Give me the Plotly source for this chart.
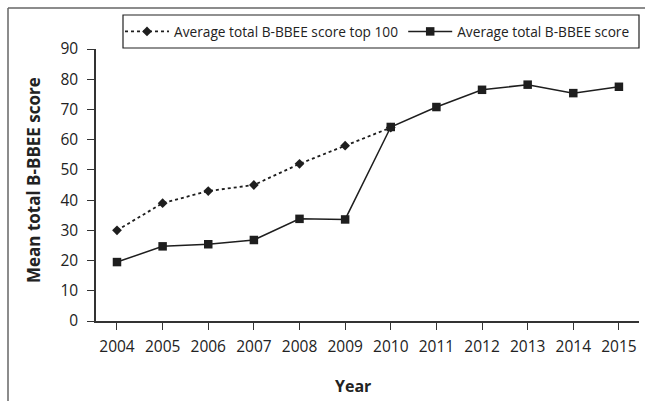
import plotly.graph_objects as go

years = ["2004", "2005", "2006", "2007", "2008", "2009", "2010", "2011", "2012", "2013", "2014", "2015"]
top100_years = ["2004", "2005", "2006", "2007", "2008", "2009", "2010"]
top100_scores = [30, 39, 43, 45, 52, 58, 64]
avg_scores = [19.5, 24.7, 25.4, 26.8, 33.8, 33.6, 64.2, 70.8, 76.5, 78.2, 75.4, 77.5]
y_ticks = [0, 10, 20, 30, 40, 50, 60, 70, 80, 90]

W, H = 645, 401
L, R, T, B = 96, 6, 49, 80
pw, ph = W - L - R, H - T - B

def px_x(x):
    return (x - L) / pw

def px_y(y):
    return (H - B - y) / ph

FONT = "Open Sans"
INK = "#1e1e1e"

fig = go.Figure()
fig.add_trace(go.Scatter(
    x=top100_years, y=top100_scores, mode="lines+markers",
    name="Average total B-BBEE score top 100",
    line=dict(color=INK, width=1.8, dash="dot"),
    marker=dict(symbol="diamond", size=7.5, color=INK),
))
fig.add_trace(go.Scatter(
    x=years, y=avg_scores, mode="lines+markers",
    name="Average total B-BBEE score",
    line=dict(color=INK, width=1.5),
    marker=dict(symbol="square", size=8.5, color=INK),
))

fig.update_layout(
    width=W, height=H,
    margin=dict(l=L, r=R, t=T, b=B, pad=0),
    paper_bgcolor="white", plot_bgcolor="white",
    font=dict(family=FONT, color="#222", size=15),
    showlegend=True,
    legend=dict(
        orientation="h", x=px_x(120), y=px_y(31.5), xanchor="left", yanchor="middle",
        borderwidth=0, bgcolor="rgba(0,0,0,0)",
        font=dict(family=FONT, size=13.7, color="#222"),
        traceorder="normal", itemwidth=44,
    ),
    xaxis=dict(
        type="category", categoryorder="array", categoryarray=years,
        range=[-0.46, 11.44], showgrid=False, zeroline=False,
        showline=True, linecolor="#333", linewidth=1.5,
        ticks="outside", ticklen=7, tickwidth=1.2, tickcolor="#333",
        tickfont=dict(size=15.5, family=FONT, color="#222"),
        ticklabelstandoff=4,
    ),
    yaxis=dict(
        range=[0, 90], tickvals=y_ticks, showgrid=False, zeroline=False,
        showline=True, linecolor="#333", linewidth=1.5,
        ticks="outside", ticklen=7, tickwidth=1.2, tickcolor="#333",
        tickfont=dict(size=15.5, family=FONT, color="#222"),
        ticklabelstandoff=6,
    ),
    annotations=[
        dict(text="<b>Year</b>", xref="paper", yref="paper",
             x=px_x(353), y=px_y(386), xanchor="center", yanchor="middle",
             showarrow=False, font=dict(size=16, family=FONT, color="#222")),
        dict(text="<b>Mean total B-BBEE score</b>", xref="paper", yref="paper",
             x=px_x(33), y=px_y(180), xanchor="center", yanchor="middle",
             textangle=-90, showarrow=False,
             font=dict(size=17, family=FONT, color="#222")),
    ],
    shapes=[
        dict(type="line", xref="paper", yref="paper",
             x0=px_x(8), x1=px_x(8), y0=px_y(401), y1=px_y(8),
             line=dict(color="#666", width=1.5)),
        dict(type="line", xref="paper", yref="paper",
             x0=px_x(8), x1=px_x(645), y0=px_y(8), y1=px_y(8),
             line=dict(color="#666", width=1.5)),
        dict(type="rect", xref="paper", yref="paper",
             x0=px_x(123), x1=px_x(639), y0=px_y(48), y1=px_y(15),
             line=dict(color="#222", width=1.2), fillcolor="white", layer="below"),
    ],
)

fig.write_html(
    "out.html",
    config={"displayModeBar": False},
    post_script=(
        "document.body.style.margin='0px';"
        "document.body.style.overflow='hidden';"
        "document.documentElement.style.overflow='hidden';"
    ),
)
